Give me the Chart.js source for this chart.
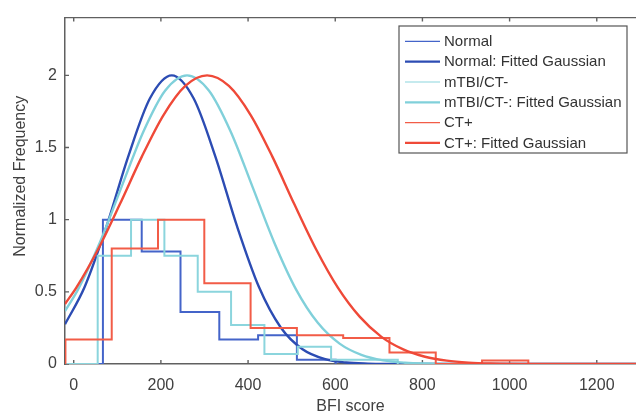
<!DOCTYPE html>
<html>
<head>
<meta charset="utf-8">
<script src="https://cdn.jsdelivr.net/npm/chart.js@4.4.1/dist/chart.umd.min.js"></script>
<style>
  html, body { margin: 0; padding: 0; background: #fff; }
  #wrap { width: 636px; height: 417px; }
</style>
</head>
<body>
<div id="wrap"><canvas id="myChart"></canvas></div>
<script>
// histogram outlines: bin edges + normalized height of each bin
var normalEdges = [-22, 67, 156, 245, 334, 423, 512, 601];
var normalHeights = [0, 1.0, 0.78, 0.36, 0.17, 0.2, 0.03];

var mtbiEdges = [-21.5, 55, 131.5, 208, 284.5, 361, 437.5, 514, 590.5, 667, 743.5];
var mtbiHeights = [0, 0.75, 1.0, 0.75, 0.5, 0.27, 0.07, 0.12, 0.03, 0.03];

var ctEdges = [-19, 87.2, 193.4, 299.6, 405.8, 512, 618.2, 724.4, 830.6, 936.8, 1043];
var ctHeights = [0.17, 0.8, 1.0, 0.56, 0.25, 0.2, 0.18, 0.08, 0, 0.025];

// fitted gaussians
var normalFitX = [-20, 25, 75, 125, 175, 225, 275, 325, 375, 425, 475, 525, 575, 625, 675, 725, 800, 1300];
var normalFitY = [0.275, 0.533, 0.951, 1.437, 1.841, 2.0, 1.841, 1.437, 0.951, 0.533, 0.253, 0.102, 0.035, 0.010, 0.0025, 0.0005, 0, 0];

var mtbiFitX = [-20, 10, 60, 110, 160, 210, 260, 310, 360, 410, 460, 510, 560, 610, 660, 710, 760, 810, 860, 1300];
var mtbiFitY = [0.367, 0.517, 0.842, 1.229, 1.611, 1.895, 2.0, 1.895, 1.611, 1.229, 0.842, 0.517, 0.285, 0.141, 0.063, 0.025, 0.009, 0.003, 0.001, 0];

var ctFitX = [-20, 6, 56, 106, 156, 206, 256, 306, 356, 406, 456, 506, 556, 606, 656, 706, 756, 806, 856, 906, 956, 1056, 1300];
var ctFitY = [0.416, 0.529, 0.795, 1.108, 1.435, 1.725, 1.927, 2.0, 1.927, 1.725, 1.435, 1.108, 0.795, 0.529, 0.328, 0.188, 0.101, 0.050, 0.023, 0.0098, 0.0039, 0.0005, 0];

var seriesNames = ['Normal', 'Normal: Fitted Gaussian', 'mTBI/CT-', 'mTBI/CT-: Fitted Gaussian', 'CT+', 'CT+: Fitted Gaussian'];

var xTicks = [0, 200, 400, 600, 800, 1000, 1200];
var yTicks = [0, 0.5, 1, 1.5, 2];
var yTitle = 'Normalized Frequency';

var axisColor = '#606060';
var textColor = '#404040';

function stairs(edges, heights){
    var pts = [{x: edges[0], y: 0}];
    for (var i = 0; i < heights.length; i++){
        pts.push({x: edges[i], y: heights[i]});
    }
    pts.push({x: edges[edges.length - 1], y: 0});
    return pts;
}

function curve(xs, ys){
    return xs.map(function(x, i){ return {x: x, y: ys[i]}; });
}

function histSet(label, pts, color, order){
    return {label: label, data: pts, borderColor: color, borderWidth: 2, stepped: 'before',
            pointRadius: 0, fill: false, order: order, legendWidth: 1.2};
}

function fitSet(label, pts, color, order){
    return {label: label, data: pts, borderColor: color, borderWidth: 2.4, cubicInterpolationMode: 'monotone',
            pointRadius: 0, fill: false, order: order, legendWidth: 2.2};
}

// tick marks inside the box + top edge (matlab style)
var framePlugin = {
    id: 'frame',
    beforeDatasetsDraw: function(chart){
        var ctx = chart.ctx, a = chart.chartArea;
        var xs = chart.scales.x, ys = chart.scales.y;
        ctx.save();
        ctx.strokeStyle = axisColor;
        ctx.lineWidth = 1.4;
        ctx.beginPath();
        ctx.moveTo(a.left, a.top);
        ctx.lineTo(a.right, a.top);
        xTicks.forEach(function(v){
            var px = xs.getPixelForValue(v);
            ctx.moveTo(px, a.bottom); ctx.lineTo(px, a.bottom - 4);
            ctx.moveTo(px, a.top); ctx.lineTo(px, a.top + 4);
        });
        yTicks.forEach(function(v){
            var py = ys.getPixelForValue(v);
            ctx.moveTo(a.left, py); ctx.lineTo(a.left + 4, py);
        });
        ctx.stroke();
        ctx.restore();
    },
    afterDraw: function(chart){
        // y label sits a bit above the middle of the axis in the original
        var ctx = chart.ctx, a = chart.chartArea;
        ctx.save();
        ctx.translate(20.5, a.top + (a.bottom - a.top) * 0.458);
        ctx.rotate(-Math.PI / 2);
        ctx.font = '16px "Liberation Sans", Arial, sans-serif';
        ctx.fillStyle = textColor;
        ctx.textAlign = 'center';
        ctx.textBaseline = 'middle';
        ctx.fillText(yTitle, 0, 0);
        ctx.restore();
    }
};

// boxed legend in the upper right corner
var legendPlugin = {
    id: 'boxLegend',
    afterDraw: function(chart){
        var ctx = chart.ctx;
        var box = {left: 399, top: 26, right: 627, bottom: 153};
        ctx.save();
        ctx.fillStyle = '#fff';
        ctx.fillRect(box.left, box.top, box.right - box.left, box.bottom - box.top);
        ctx.strokeStyle = '#555';
        ctx.lineWidth = 1.2;
        ctx.strokeRect(box.left, box.top, box.right - box.left, box.bottom - box.top);
        ctx.font = '15px "Liberation Sans", Arial, sans-serif';
        ctx.textBaseline = 'middle';
        ctx.fillStyle = '#333';
        chart.data.datasets.forEach(function(ds, i){
            var y = box.top + 15.4 + i * 20.3;
            ctx.strokeStyle = ds.borderColor;
            ctx.lineWidth = ds.legendWidth;
            ctx.beginPath();
            ctx.moveTo(box.left + 6, y);
            ctx.lineTo(box.left + 41, y);
            ctx.stroke();
            ctx.fillText(ds.label, box.left + 45, y + 0.5);
        });
        ctx.restore();
    }
};

Chart.defaults.font.family = '"Liberation Sans", Arial, sans-serif';
Chart.defaults.color = textColor;

var ctx = document.getElementById('myChart').getContext('2d');
var chart = new Chart(ctx, {
    type: 'line',
    data: {
        datasets: [
            histSet(seriesNames[0], stairs(normalEdges, normalHeights), '#4464c9', 6),
            fitSet(seriesNames[1], curve(normalFitX, normalFitY), '#2c4cb3', 5),
            histSet(seriesNames[2], stairs(mtbiEdges, mtbiHeights), '#8bd5dd', 4),
            fitSet(seriesNames[3], curve(mtbiFitX, mtbiFitY), '#80d0da', 3),
            histSet(seriesNames[4], stairs(ctEdges, ctHeights), '#f25c47', 2),
            fitSet(seriesNames[5], curve(ctFitX, ctFitY), '#ef4938', 1)
        ]
    },
    options: {
        responsive: true,
        maintainAspectRatio: false,
        animation: false,
        events: [],
        layout: {padding: {top: 11, right: 0, bottom: 0, left: 0}},
        plugins: {legend: {display: false}, tooltip: {enabled: false}},
        scales: {
            x: {
                type: 'linear',
                min: -20,
                max: 1290,
                grid: {display: false, drawTicks: false},
                border: {display: true, color: axisColor, width: 1.5},
                afterBuildTicks: function(s){ s.ticks = xTicks.map(function(v){ return {value: v}; }); },
                afterFit: function(s){ s.height = 53; },
                ticks: {font: {size: 16}, padding: 12, color: textColor, callback: function(v){ return String(v); }},
                title: {display: true, text: 'BFI score', font: {size: 16}, color: textColor, padding: {top: 0, bottom: 1}}
            },
            y: {
                min: 0,
                max: 2.4,
                grid: {display: false, drawTicks: false},
                border: {display: true, color: axisColor, width: 1.5},
                afterBuildTicks: function(s){ s.ticks = yTicks.map(function(v){ return {value: v}; }); },
                afterFit: function(s){ s.width = 65; },
                ticks: {font: {size: 16}, padding: 8, color: textColor, callback: function(v){ return String(v); }}
            }
        }
    },
    plugins: [framePlugin, legendPlugin]
});
</script>
</body>
</html>
